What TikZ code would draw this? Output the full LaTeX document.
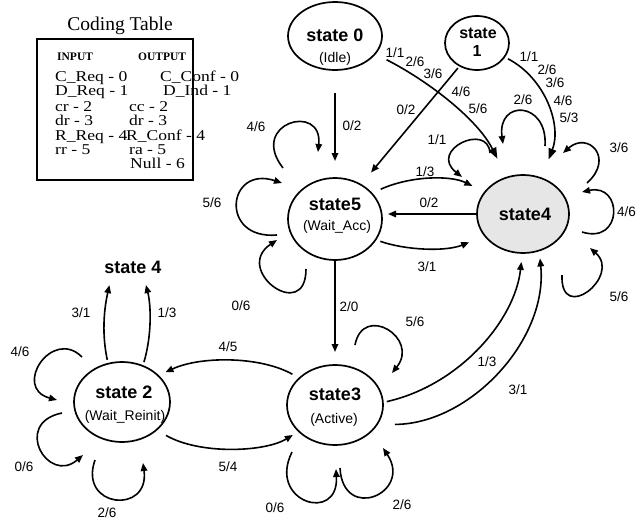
\documentclass[tikz,border=0pt]{standalone}
\usepackage{fontspec}
\setmainfont{Liberation Sans}
\newfontfamily\tabserif{Liberation Serif}
\newfontfamily\tabwide[FakeStretch=1.17]{Liberation Serif}
\usetikzlibrary{arrows.meta,shapes.geometric,calc}
\definecolor{stategray}{RGB}{230,230,230}
\begin{document}
\begin{tikzpicture}[x=1pt,y=-1pt,
  state/.style={ellipse, draw, line width=1.7pt, inner sep=0pt, outer sep=0pt},
  arr/.style={line width=1.6pt, -{Triangle[length=8pt,width=6.5pt]}},
  bigarr/.style={line width=1.6pt, -{Triangle[length=11pt,width=8pt]}},
  lbl/.style={font=\fontsize{13.5}{16}\selectfont, inner sep=0pt},
  sname/.style={font=\fontsize{18}{21}\selectfont\bfseries, inner sep=0pt, anchor=base},
  ssub/.style={font=\fontsize{14}{17}\selectfont, inner sep=0pt, anchor=base},
  tab/.style={font=\tabwide\fontsize{15}{15}\selectfont, inner sep=0pt, anchor=base west},
  tabhead/.style={font=\tabserif\fontsize{11.5}{13}\selectfont\bfseries, inner sep=0pt, anchor=base west},
]
\useasboundingbox (0,0) rectangle (637,522);

% ---- coding table ----
\node[font=\tabserif\fontsize{19.5}{22}\selectfont, inner sep=0pt, anchor=base] (ttl) at (120,30) {Coding Table};
\node[draw, line width=1.8pt, minimum width=156pt, minimum height=141pt, inner sep=0pt] (tbox) at (115,109.5) {};
\node[tabhead] (hin) at (57,60) {INPUT};
\node[tabhead] (hout) at (138,60) {OUTPUT};
\node[tab] (i0) at (55,81) {C\_Req - 0};
\node[tab] (o0) at (160,81) {C\_Conf - 0};
\node[tab] (i1) at (55,95) {D\_Req - 1};
\node[tab] (o1) at (163,95) {D\_Ind - 1};
\node[tab] (i2) at (55,111) {cr - 2};
\node[tab] (o2) at (129,111) {cc - 2};
\node[tab] (i3) at (55,125) {dr - 3};
\node[tab] (o3) at (129,125) {dr - 3};
\node[tab] (i4) at (55,140) {R\_Req - 4};
\node[tab] (o4) at (126,140) {R\_Conf - 4};
\node[tab] (i5) at (55,154) {rr - 5};
\node[tab] (o5) at (129,154) {ra - 5};
\node[tab] (o6) at (130,168) {Null - 6};

% ---- states ----
\node[state, minimum width=94pt, minimum height=68pt] (s0) at (335,36) {};
\node[state, minimum width=64pt, minimum height=54pt] (s1) at (477,43) {};
\node[state, minimum width=94pt, minimum height=82pt] (s5) at (335,219) {};
\node[state, fill=stategray, minimum width=92pt, minimum height=78pt] (s4) at (523,214) {};
\node[state, minimum width=96pt, minimum height=80pt] (s3) at (335,405) {};
\node[state, minimum width=96pt, minimum height=80pt] (s2) at (122,402) {};

\node[sname] (s0a) at (335,41) {state 0};
\node[ssub] (s0b) at (335,62) {(Idle)};
\node[sname, font=\fontsize{16}{19}\selectfont\bfseries] (s1a) at (478,38) {state};
\node[sname, font=\fontsize{16}{19}\selectfont\bfseries] (s1b) at (477,56) {1};
\node[sname] (s5a) at (335,210) {state5};
\node[ssub] (s5b) at (337,230) {(Wait\_Acc)};
\node[sname] (s4a) at (525,220) {state4};
\node[sname] (s3a) at (335,400) {state3};
\node[ssub] (s3b) at (334,423) {(Active)};
\node[sname] (s2a) at (124,398) {state 2};
\node[ssub] (s2b) at (125,420) {(Wait\_Reinit)};
\node[sname] (t4) at (133,273) {state 4};

% ---- transitions between states ----
\draw[arr, shorten <=23pt, shorten >=17pt] (s0.south) -- (s5.north);
\draw[arr, shorten <=3pt, shorten >=16pt] (s1.233) -- (s5.53);
\draw[bigarr, shorten <=13pt, shorten >=21pt] (s0.336) .. controls (430,82) and (478,120) .. (s4.114);
\draw[bigarr, shorten <=4pt, shorten >=20pt] (s1.333) .. controls (545,78) and (562,125) .. (s4.63);
\draw[arr, shorten <=10pt, shorten >=14pt] (s5.35) .. controls (410,176) and (450,175) .. (s4.150);
\draw[arr, shorten >=6pt] (s4.west) -- (s5.east |- s4.west);
\draw[arr, shorten <=5pt, shorten >=17pt] (s5.333) .. controls (405,250) and (445,252) .. (s4.210);
\draw[arr, shorten <=1pt, shorten >=13pt] (s5.south) -- (s3.north);
\draw[arr, shorten <=4pt, shorten >=9pt] (s3.3) .. controls (460,385) and (515,320) .. (s4.269);
\draw[arr, shorten <=18pt, shorten >=8pt] (s3.335) .. controls (470,424) and (548,340) .. (s4.294);
\draw[arr, shorten <=8pt, shorten >=8pt] (s3.143) .. controls (260,356) and (200,356) .. (s2.36);
\draw[arr, shorten <=11pt, shorten >=7pt] (s2.321) .. controls (200,455) and (265,452) .. (s3.216);
\draw[arr, shorten <=4pt, shorten >=12pt] (s2.110) .. controls (101,330) and (105,305) .. ([xshift=-21pt]t4.south);
\draw[arr, shorten <=4pt, shorten >=12pt] (s2.60) .. controls (152,335) and (151,305) .. ([xshift=10pt]t4.south);

% ---- self loops ----
\draw[arr] ($(s4)+(-33,-61)$) .. controls +(-2,-31) and +(-34,-27) .. ($(s4)+(-61,-37)$);
\draw[arr] ($(s4)+(22,-68)$) .. controls +(3,-45) and +(-6,-45) .. ($(s4)+(-20,-70)$);
\draw[arr] ($(s4)+(64,-31)$) .. controls +(28,-25) and +(25,-22) .. ($(s4)+(40,-61)$);
\draw[arr] ($(s4)+(59,18)$) .. controls +(41,13) and +(41,-9) .. ($(s4)+(59,-22)$);
\draw[arr] ($(s4)+(39,61)$) .. controls +(-2,50) and +(32,28) .. ($(s4)+(67,34)$);

\draw[arr] ($(s5)+(-52,-51)$) .. controls +(-35,-45) and +(5,-50) .. ($(s5)+(-17,-67)$);
\draw[arr] ($(s5)+(-58,16)$) .. controls +(-58,5) and +(-55,-18) .. ($(s5)+(-53,-36)$);
\draw[arr] ($(s5)+(-29,50)$) .. controls +(0,55) and +(-45,30) .. ($(s5)+(-58,21)$);

\draw[arr] ($(s3)+(20,-60)$) .. controls +(8,-42) and +(28,-35) .. ($(s3)+(57,-32)$);
\draw[arr] ($(s3)+(-43,47)$) .. controls +(-25,50) and +(3,55) .. ($(s3)+(1,64)$);
\draw[arr] ($(s3)+(5,63)$) .. controls +(3,55) and +(30,45) .. ($(s3)+(48,43)$);

\draw[arr] ($(s2)+(-40,-45)$) .. controls +(-30,-30) and +(-45,-12) .. ($(s2)+(-65,-2)$);
\draw[arr] ($(s2)+(-60,11)$) .. controls +(-50,10) and +(-35,30) .. ($(s2)+(-39,53)$);
\draw[arr] ($(s2)+(-27,58)$) .. controls +(-17,48) and +(7,52) .. ($(s2)+(21,61)$);

% ---- transition labels ----
\node[lbl] (a01) at (352,126) {0/2};
\node[lbl] (a02) at (406,110) {0/2};
\node[lbl] (a03) at (395,53) {1/1};
\node[lbl] (a04) at (415,62) {2/6};
\node[lbl] (a05) at (433,74) {3/6};
\node[lbl] (a06) at (461,92) {4/6};
\node[lbl] (a07) at (478,109) {5/6};
\node[lbl] (a08) at (529,57) {1/1};
\node[lbl] (a09) at (547,70) {2/6};
\node[lbl] (a10) at (555,83) {3/6};
\node[lbl] (a11) at (563,101) {4/6};
\node[lbl] (a12) at (569,118) {5/3};
\node[lbl] (a13) at (437,140) {1/1};
\node[lbl] (a14) at (523,100) {2/6};
\node[lbl] (a15) at (619,148) {3/6};
\node[lbl, anchor=east] (a16) at (636,212) {4/6};
\node[lbl] (a17) at (619,297) {5/6};
\node[lbl] (a18) at (425,172) {1/3};
\node[lbl] (a19) at (429,203) {0/2};
\node[lbl] (a20) at (427,267) {3/1};
\node[lbl] (a21) at (256,127) {4/6};
\node[lbl] (a22) at (212,203) {5/6};
\node[lbl] (a23) at (241,306) {0/6};
\node[lbl] (a24) at (349,307) {2/0};
\node[lbl] (a25) at (415,322) {5/6};
\node[lbl] (a26) at (275,508) {0/6};
\node[lbl] (a27) at (402,505) {2/6};
\node[lbl] (a28) at (487,362) {1/3};
\node[lbl] (a29) at (518,390) {3/1};
\node[lbl] (a30) at (228,347) {4/5};
\node[lbl] (a31) at (228,467) {5/4};
\node[lbl] (a32) at (81,313) {3/1};
\node[lbl] (a33) at (167,313) {1/3};
\node[lbl] (a34) at (20,352) {4/6};
\node[lbl] (a35) at (24,467) {0/6};
\node[lbl] (a36) at (107,513) {2/6};
\end{tikzpicture}
\end{document}
